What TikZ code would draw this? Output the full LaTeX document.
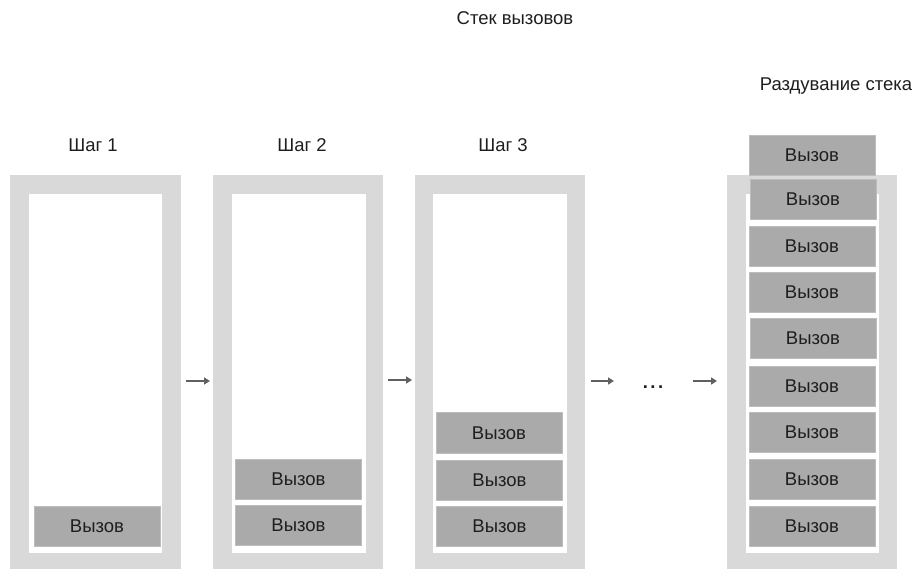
\documentclass[tikz,border=0pt]{standalone}
\usepackage{fontspec}
\setmainfont{Liberation Sans}
\usetikzlibrary{arrows.meta}
\definecolor{framegray}{HTML}{D9D9D9}
\definecolor{callgray}{HTML}{AAAAAA}
\definecolor{callline}{HTML}{BDBDBD}
\definecolor{txt}{HTML}{1E1E1E}
\definecolor{arrgray}{HTML}{606060}
\begin{document}
\begin{tikzpicture}[x=1pt,y=-1pt,
  every node/.style={inner sep=0pt,outer sep=0pt,text=txt,font=\fontsize{18.5}{21}\selectfont},
  call/.style={fill=callgray,draw=callline,line width=0.8pt,minimum width=126pt,minimum height=40pt},
  title/.style={},
  arr/.style={draw=arrgray,line width=1.8pt,-{Triangle[length=6pt,width=7pt]}}]
\useasboundingbox (0,0) rectangle (915,569);
% titles
\node[title] (main) at (515,18) {Стек вызовов};
\node[title] (bloat) at (836,86) {Раздувание стека};
\node[title] (t1) at (93,145) {Шаг 1};
\node[title] (t2) at (302,145) {Шаг 2};
\node[title] (t3) at (503,145) {Шаг 3};
% frames
\fill[framegray] (10,175) rectangle (181,575);
\fill[white] (29,194) rectangle (162,553);
\fill[framegray] (213,175) rectangle (383,575);
\fill[white] (232,194) rectangle (366,553);
\fill[framegray] (415,175) rectangle (585,575);
\fill[white] (433,194) rectangle (567,553);
\fill[framegray] (727,175) rectangle (897,575);
\fill[white] (746,194) rectangle (879,553);
% column 1
\node[call] (a1) at (97,526) {Вызов};
% column 2
\node[call] (b1) at (298.5,525) {Вызов};
\node[call] (b2) at (298.5,479.5) {Вызов};
% column 3
\node[call] (c1) at (499.5,526.5) {Вызов};
\node[call] (c2) at (499.5,480.5) {Вызов};
\node[call,minimum height=41pt] (c3) at (499,433) {Вызов};
% column 4
\node[call] (d1) at (812,526.5) {Вызов};
\node[call] (d2) at (812,479.5) {Вызов};
\node[call] (d3) at (812,432) {Вызов};
\node[call] (d4) at (812,386.5) {Вызов};
\node[call] (d5) at (813,338.5) {Вызов};
\node[call] (d6) at (812,292) {Вызов};
\node[call] (d7) at (812,246.5) {Вызов};
\node[call] (d8) at (813,199.5) {Вызов};
\node[call] (d9) at (812,155) {Вызов};
% arrows
\coordinate (p1s) at (186,381); \coordinate (p1e) at (210,381);
\coordinate (p2s) at (388,380); \coordinate (p2e) at (412,380);
\coordinate (p3s) at (591,381); \coordinate (p3e) at (614,381);
\coordinate (p4s) at (693,381); \coordinate (p4e) at (717,381);
\draw[arr] (p1s) -- (p1e);
\draw[arr] (p2s) -- (p2e);
\draw[arr] (p3s) -- (p3e);
\draw[arr] (p4s) -- (p4e);
\node[anchor=base] (dots) at (653,388) {\textbf{.\kern2.5pt.\kern2.5pt.}};
\end{tikzpicture}
\end{document}
